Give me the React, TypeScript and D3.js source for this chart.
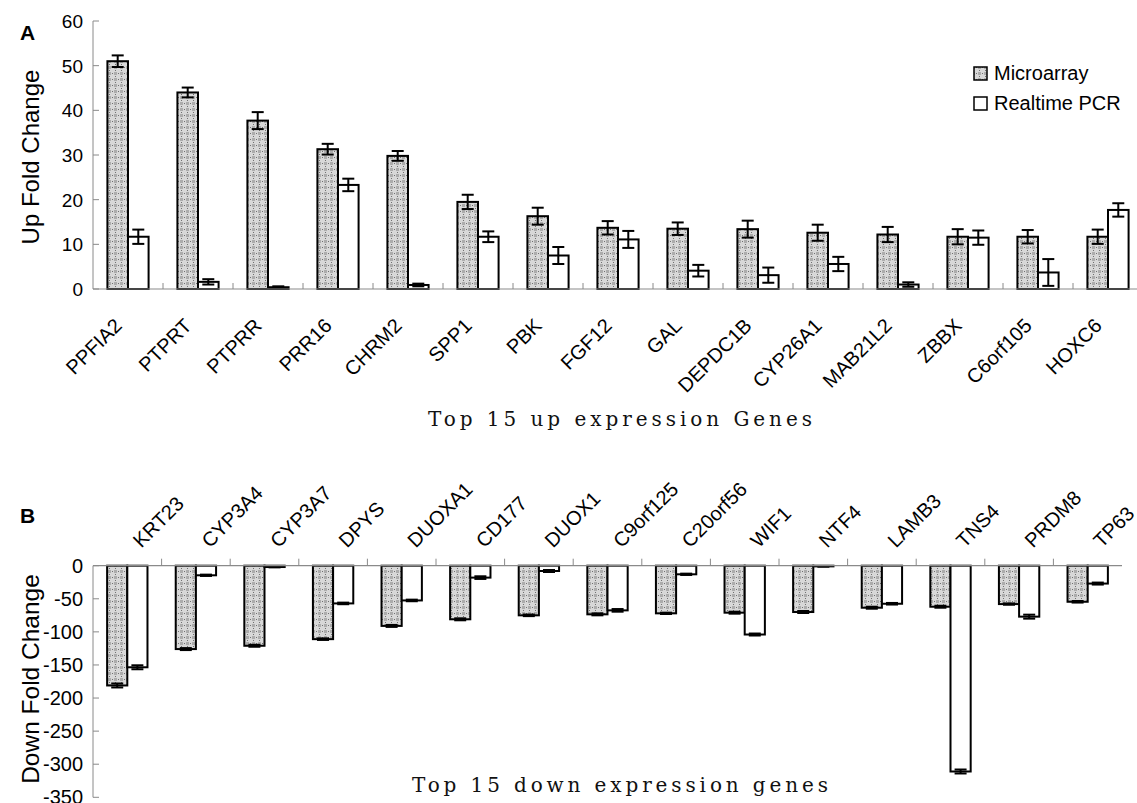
import React from "react";
import * as d3 from "d3";

// Panel A: top 15 up-regulated genes
const genesUp = ["PPFIA2", "PTPRT", "PTPRR", "PRR16", "CHRM2", "SPP1", "PBK", "FGF12", "GAL", "DEPDC1B", "CYP26A1", "MAB21L2", "ZBBX", "C6orf105", "HOXC6"];
const upMicro = [51.0, 44.0, 37.7, 31.3, 29.8, 19.5, 16.3, 13.7, 13.5, 13.4, 12.6, 12.2, 11.7, 11.7, 11.7];
const upMicroErr = [1.3, 1.1, 1.9, 1.2, 1.1, 1.6, 1.9, 1.5, 1.4, 1.9, 1.8, 1.7, 1.7, 1.5, 1.6];
const upPcr = [11.7, 1.6, 0.4, 23.3, 0.9, 11.7, 7.5, 11.1, 4.1, 3.1, 5.6, 1.0, 11.5, 3.7, 17.7];
const upPcrErr = [1.6, 0.6, 0.2, 1.4, 0.3, 1.2, 1.9, 1.9, 1.3, 1.7, 1.6, 0.5, 1.6, 3.0, 1.5];
const upTicks = [0, 10, 20, 30, 40, 50, 60];

// Panel B: top 15 down-regulated genes
const genesDown = ["KRT23", "CYP3A4", "CYP3A7", "DPYS", "DUOXA1", "CD177", "DUOX1", "C9orf125", "C20orf56", "WIF1", "NTF4", "LAMB3", "TNS4", "PRDM8", "TP63"];
const downMicro = [-181, -126, -121, -111, -91, -81, -75, -73.5, -72, -71, -70, -63.5, -62, -58, -54.5];
const downMicroErr = [3, 1.5, 1.5, 1.2, 1.5, 1.5, 1.2, 1.5, 1, 1.5, 1.5, 1.5, 1.5, 1, 1.2];
const downPcr = [-153.5, -14.5, -2, -57, -52.5, -18, -8, -67.5, -13, -104, -1, -57.5, -311, -77, -27];
const downPcrErr = [3, 1, 0.5, 1.2, 1.2, 2, 1.5, 2, 1, 1.5, 0.5, 1.2, 3, 3, 1.5];
const downTicks = [0, -50, -100, -150, -200, -250, -300, -350];

const seriesNames = ["Microarray", "Realtime PCR"];

const W = 1137;
const H = 803;
const SANS = "'Liberation Sans', Arial, sans-serif";
const SERIF = "'DejaVu Serif', 'Liberation Serif', serif";
const AXIS_GRAY = "#8a8a8a";

type Panel = {
  genes: string[];
  micro: number[];
  microErr: number[];
  pcr: number[];
  pcrErr: number[];
  y: d3.ScaleLinear<number, number>;
  x: d3.ScaleBand<string>;
};

function Bars({ genes, micro, microErr, pcr, pcrErr, y, x }: Panel) {
  const inner = d3.scaleBand<string>().domain(seriesNames).range([0, x.bandwidth()]).paddingOuter(0.7);
  const bw = inner.bandwidth();
  const y0 = y(0);
  const rows = genes.map((g, i) => [
    { g, s: seriesNames[0], v: micro[i], e: microErr[i], fill: "url(#mottle)" },
    { g, s: seriesNames[1], v: pcr[i], e: pcrErr[i], fill: "#ffffff" },
  ]).flat();
  return (
    <g>
      {rows.map((r, k) => {
        const bx = (x(r.g) as number) + (inner(r.s) as number);
        const top = Math.min(y(r.v), y0);
        const h = Math.abs(y(r.v) - y0);
        const cx = bx + bw / 2;
        const e1 = y(r.v + r.e);
        const e2 = y(r.v - r.e);
        return (
          <g key={k}>
            <rect x={bx} y={top} width={bw} height={Math.max(h, 0.5)} fill={r.fill} stroke="#000" strokeWidth={2} />
            <line x1={cx} x2={cx} y1={e1} y2={e2} stroke="#000" strokeWidth={2} />
            <line x1={cx - 6} x2={cx + 6} y1={e1} y2={e1} stroke="#000" strokeWidth={2} />
            <line x1={cx - 6} x2={cx + 6} y1={e2} y2={e2} stroke="#000" strokeWidth={2} />
          </g>
        );
      })}
    </g>
  );
}

export default function App() {
  // Panel A scales
  const yUp = d3.scaleLinear().domain([0, 60]).range([289, 21]);
  const xUp = d3.scaleBand<string>().domain(genesUp).range([93, 1143]);
  // Panel B scales
  const yDown = d3.scaleLinear().domain([-350, 0]).range([797.3, 565.7]);
  const xDown = d3.scaleBand<string>().domain(genesDown).range([93, 1122]);

  const axisLeft = 93;

  return (
    <svg width={W} height={H} style={{ position: "absolute", left: 0, top: 0, background: "#fff" }} fontFamily={SANS}>
      <defs>
        <pattern id="mottle" width="6" height="6" patternUnits="userSpaceOnUse">
          <rect width="6" height="6" fill="#d8d8d8" />
          <rect x="0" y="0" width="3" height="3" fill="#acacac" />
          <rect x="4" y="1" width="1" height="1" fill="#707070" />
          <rect x="1" y="4" width="1" height="1" fill="#707070" />
        </pattern>
      </defs>

      {/* ---------- Panel A ---------- */}
      <text x={20} y={40} fontSize={21} fontWeight="bold">A</text>
      <text transform="translate(39,157) rotate(-90)" textAnchor="middle" fontSize={24}>Up Fold Change</text>
      <line x1={axisLeft} x2={axisLeft} y1={yUp(60)} y2={yUp(0)} stroke={AXIS_GRAY} strokeWidth={1} />
      {upTicks.map((t) => (
        <g key={t}>
          <line x1={axisLeft} x2={axisLeft + 6} y1={yUp(t)} y2={yUp(t)} stroke={AXIS_GRAY} />
          <text x={83} y={yUp(t) + 7} textAnchor="end" fontSize={19}>{t}</text>
        </g>
      ))}
      <Bars genes={genesUp} micro={upMicro} microErr={upMicroErr} pcr={upPcr} pcrErr={upPcrErr} y={yUp} x={xUp} />
      <line x1={axisLeft} x2={W} y1={yUp(0)} y2={yUp(0)} stroke={AXIS_GRAY} strokeWidth={1.2} />
      {genesUp.slice(1).map((g) => (
        <line key={g} x1={xUp(g)} x2={xUp(g)} y1={yUp(0)} y2={yUp(0) - 6} stroke={AXIS_GRAY} />
      ))}
      {genesUp.map((g) => {
        const cx = (xUp(g) as number) + xUp.bandwidth() / 2;
        return (
          <text key={g} transform={`translate(${cx - 5},${yUp(0) + 38}) rotate(-45)`} textAnchor="end" fontSize={20}>{g}</text>
        );
      })}
      <text x={620} y={426} textAnchor="middle" fontFamily={SERIF} fontSize={20} fill="#111" textLength={384} lengthAdjust="spacing">Top 15 up expression Genes</text>

      {/* Legend */}
      <rect x={974} y={67} width={13} height={13} fill="url(#mottle)" stroke="#000" strokeWidth={1.5} />
      <text x={994} y={80} fontSize={20}>{seriesNames[0]}</text>
      <rect x={974} y={97} width={13} height={13} fill="#fff" stroke="#000" strokeWidth={1.5} />
      <text x={994} y={110} fontSize={20}>{seriesNames[1]}</text>

      {/* ---------- Panel B ---------- */}
      <text x={20} y={523} fontSize={21} fontWeight="bold">B</text>
      <text transform="translate(39,679) rotate(-90)" textAnchor="middle" fontSize={24.5}>Down Fold Change</text>
      <line x1={axisLeft} x2={axisLeft} y1={yDown(0)} y2={yDown(-350)} stroke={AXIS_GRAY} strokeWidth={1} />
      {downTicks.map((t) => (
        <g key={t}>
          <line x1={axisLeft} x2={axisLeft + 6} y1={yDown(t)} y2={yDown(t)} stroke={AXIS_GRAY} />
          <text x={83} y={yDown(t) + 7} textAnchor="end" fontSize={20}>{t}</text>
        </g>
      ))}
      <Bars genes={genesDown} micro={downMicro} microErr={downMicroErr} pcr={downPcr} pcrErr={downPcrErr} y={yDown} x={xDown} />
      <line x1={axisLeft} x2={1122} y1={yDown(0)} y2={yDown(0)} stroke={AXIS_GRAY} strokeWidth={1.2} />
      {genesDown.slice(1).map((g) => (
        <line key={g} x1={xDown(g)} x2={xDown(g)} y1={yDown(0)} y2={yDown(0) - 7} stroke={AXIS_GRAY} />
      ))}
      {genesDown.map((g) => {
        const cx = (xDown(g) as number) + xDown.bandwidth() / 2;
        return (
          <text key={g} transform={`translate(${cx + 14},${yDown(0) - 17}) rotate(-45)`} textAnchor="start" fontSize={20}>{g}</text>
        );
      })}
      <text x={620} y={792} textAnchor="middle" fontFamily={SERIF} fontSize={20} fill="#111" textLength={416} lengthAdjust="spacing">Top 15 down expression genes</text>
    </svg>
  );
}
